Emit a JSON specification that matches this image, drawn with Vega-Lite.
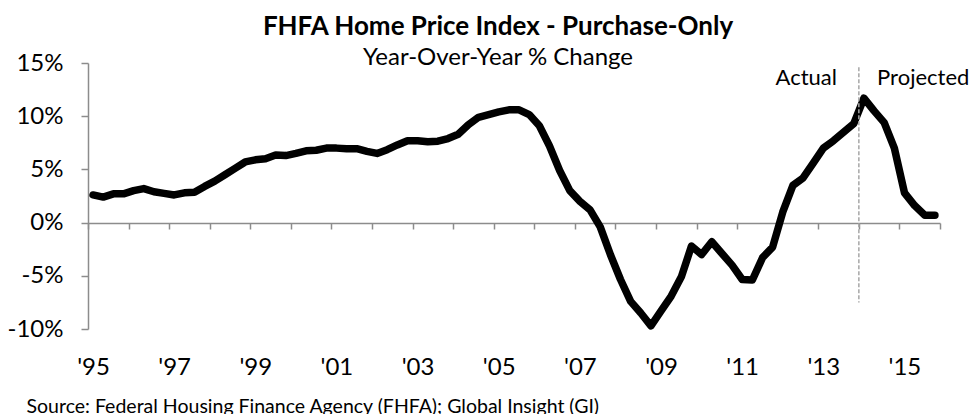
{
  "$schema": "https://vega.github.io/schema/vega-lite/v6.json",
  "width": 852,
  "height": 266,
  "autosize": "none",
  "padding": {"left": 88, "top": 63, "right": 31, "bottom": 85},
  "background": "white",
  "config": {
    "view": {"stroke": null},
    "font": "Lato",
    "axis": {"labelFont": "Lato", "titleFont": "Lato"}
  },
  "title": {
    "text": "FHFA Home Price Index - Purchase-Only",
    "subtitle": "Year-Over-Year % Change",
    "anchor": "middle",
    "frame": "group",
    "dx": -16,
    "font": "Lato",
    "subtitleFont": "Lato",
    "fontSize": 26,
    "fontWeight": "bold",
    "subtitleFontSize": 24,
    "color": "#000000",
    "subtitleColor": "#000000",
    "subtitlePadding": 6,
    "offset": -19
  },
  "layer": [
    {
      "data": {"values": [
        {"t": 1995.125, "v": 2.6}, {"t": 1995.375, "v": 2.4}, {"t": 1995.625, "v": 2.7}, {"t": 1995.875, "v": 2.7},
        {"t": 1996.125, "v": 3.0}, {"t": 1996.375, "v": 3.2}, {"t": 1996.625, "v": 2.9}, {"t": 1996.875, "v": 2.75},
        {"t": 1997.125, "v": 2.6}, {"t": 1997.375, "v": 2.8}, {"t": 1997.625, "v": 2.85}, {"t": 1997.875, "v": 3.4},
        {"t": 1998.125, "v": 3.9}, {"t": 1998.375, "v": 4.5}, {"t": 1998.625, "v": 5.1}, {"t": 1998.875, "v": 5.7},
        {"t": 1999.125, "v": 5.9}, {"t": 1999.375, "v": 6.0}, {"t": 1999.625, "v": 6.35}, {"t": 1999.875, "v": 6.3},
        {"t": 2000.125, "v": 6.5}, {"t": 2000.375, "v": 6.75}, {"t": 2000.625, "v": 6.8}, {"t": 2000.875, "v": 7.0},
        {"t": 2001.125, "v": 7.0}, {"t": 2001.375, "v": 6.95}, {"t": 2001.625, "v": 6.95}, {"t": 2001.875, "v": 6.7},
        {"t": 2002.125, "v": 6.5}, {"t": 2002.375, "v": 6.85}, {"t": 2002.625, "v": 7.3}, {"t": 2002.875, "v": 7.7},
        {"t": 2003.125, "v": 7.7}, {"t": 2003.375, "v": 7.6}, {"t": 2003.625, "v": 7.65}, {"t": 2003.875, "v": 7.9},
        {"t": 2004.125, "v": 8.3}, {"t": 2004.375, "v": 9.2}, {"t": 2004.625, "v": 9.9}, {"t": 2004.875, "v": 10.15},
        {"t": 2005.125, "v": 10.4}, {"t": 2005.375, "v": 10.6}, {"t": 2005.625, "v": 10.6}, {"t": 2005.875, "v": 10.15},
        {"t": 2006.125, "v": 9.1}, {"t": 2006.375, "v": 7.2}, {"t": 2006.625, "v": 4.9}, {"t": 2006.875, "v": 3.0},
        {"t": 2007.125, "v": 2.0}, {"t": 2007.375, "v": 1.2}, {"t": 2007.625, "v": -0.4}, {"t": 2007.875, "v": -3.0},
        {"t": 2008.125, "v": -5.35}, {"t": 2008.375, "v": -7.4}, {"t": 2008.625, "v": -8.5}, {"t": 2008.875, "v": -9.7},
        {"t": 2009.125, "v": -8.3}, {"t": 2009.375, "v": -6.9}, {"t": 2009.625, "v": -5.1}, {"t": 2009.875, "v": -2.2},
        {"t": 2010.125, "v": -3.0}, {"t": 2010.375, "v": -1.8}, {"t": 2010.625, "v": -2.9}, {"t": 2010.875, "v": -4.0},
        {"t": 2011.125, "v": -5.35}, {"t": 2011.375, "v": -5.4}, {"t": 2011.625, "v": -3.3}, {"t": 2011.875, "v": -2.3},
        {"t": 2012.125, "v": 1.0}, {"t": 2012.375, "v": 3.5}, {"t": 2012.625, "v": 4.2}, {"t": 2012.875, "v": 5.6},
        {"t": 2013.125, "v": 7.0}, {"t": 2013.375, "v": 7.7}, {"t": 2013.625, "v": 8.5}, {"t": 2013.875, "v": 9.3},
        {"t": 2014.125, "v": 11.7}, {"t": 2014.375, "v": 10.5}, {"t": 2014.625, "v": 9.4}, {"t": 2014.875, "v": 7.0},
        {"t": 2015.125, "v": 2.8}, {"t": 2015.375, "v": 1.6}, {"t": 2015.625, "v": 0.7}, {"t": 2015.875, "v": 0.7}
      ]},
      "mark": {"type": "line", "color": "#000000", "strokeWidth": 7.5, "strokeJoin": "round", "strokeCap": "round", "clip": false},
      "encoding": {
        "x": {
          "field": "t", "type": "quantitative",
          "scale": {"domain": [1995, 2016], "nice": false, "zero": false},
          "axis": {
            "values": [1995, 1996, 1997, 1998, 1999, 2000, 2001, 2002, 2003, 2004, 2005, 2006, 2007, 2008, 2009, 2010, 2011, 2012, 2013, 2014, 2015, 2016],
            "labelExpr": "(datum.value % 2 == 1 && datum.value < 2016) ? \"'\" + substring(toString(datum.value), 2, 4) : ''",
            "offset": -106,
            "grid": false,
            "domainColor": "#8c8c8c",
            "domainWidth": 1.5,
            "tickColor": "#8c8c8c",
            "tickWidth": 1.5,
            "tickSize": 6,
            "labelFontSize": 24,
            "labelColor": "#000000",
            "labelPadding": 126,
            "labelOffset": 5,
            "labelFlush": false,
            "labelOverlap": false,
            "labelBound": false,
            "title": "Source: Federal Housing Finance Agency (FHFA); Global Insight (GI)",
            "titleFontSize": 19.5,
            "titleFontWeight": "normal",
            "titleColor": "#000000",
            "titleAnchor": "start",
            "titleAlign": "left",
            "titleBaseline": "alphabetic",
            "titleX": -62,
            "titleY": 189
          }
        },
        "y": {
          "field": "v", "type": "quantitative",
          "scale": {"domain": [-10, 15], "nice": false},
          "axis": {
            "values": [-10, -5, 0, 5, 10, 15],
            "labelExpr": "datum.value + '%'",
            "grid": false,
            "domainColor": "#8c8c8c",
            "domainWidth": 1.5,
            "tickColor": "#8c8c8c",
            "tickWidth": 1.5,
            "tickSize": 7,
            "labelFontSize": 24,
            "labelColor": "#000000",
            "labelPadding": 18,
            "title": null
          }
        }
      }
    },
    {
      "data": {"values": [{"t": 2014, "v": 14.6, "v2": -7.5}]},
      "mark": {"type": "rule", "color": "#a6a6a6", "strokeWidth": 1.5, "strokeDash": [4, 2]},
      "encoding": {
        "x": {"field": "t", "type": "quantitative"},
        "y": {"field": "v", "type": "quantitative"},
        "y2": {"field": "v2"}
      }
    },
    {
      "data": {"values": [{"t": 2013.46, "v": 13.6, "label": "Actual"}]},
      "mark": {"type": "text", "font": "Lato", "fontSize": 22, "color": "#000000", "baseline": "middle", "align": "right"},
      "encoding": {
        "x": {"field": "t", "type": "quantitative"},
        "y": {"field": "v", "type": "quantitative"},
        "text": {"field": "label"}
      }
    },
    {
      "data": {"values": [{"t": 2014.45, "v": 13.6, "label": "Projected"}]},
      "mark": {"type": "text", "font": "Lato", "fontSize": 22, "color": "#000000", "baseline": "middle", "align": "left"},
      "encoding": {
        "x": {"field": "t", "type": "quantitative"},
        "y": {"field": "v", "type": "quantitative"},
        "text": {"field": "label"}
      }
    }
  ]
}
